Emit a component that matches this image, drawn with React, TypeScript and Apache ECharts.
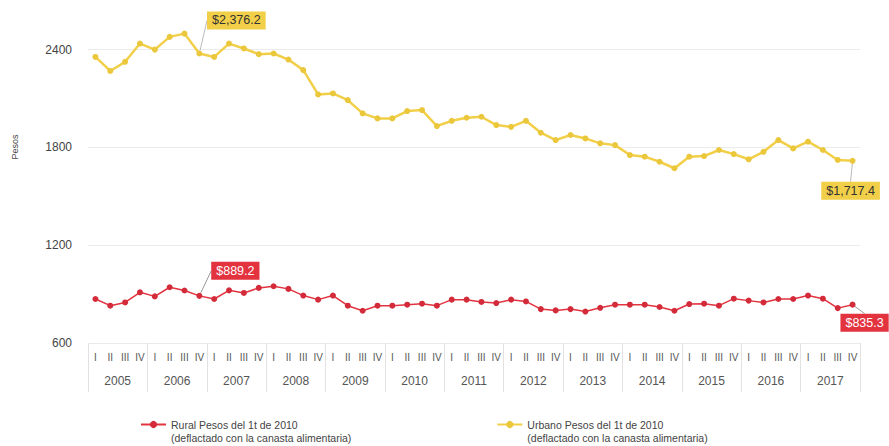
import React, { useEffect, useRef } from "react";
import * as echarts from "echarts";

const years = ["2005", "2006", "2007", "2008", "2009", "2010", "2011", "2012", "2013", "2014", "2015", "2016", "2017"];
const quarters = ["I", "II", "III", "IV"];
const yTicks = [600, 1200, 1800, 2400];

const urbano = [
  2355, 2269, 2325, 2437, 2400, 2478, 2498, 2376.2,
  2355, 2437, 2407, 2372, 2376, 2339, 2274, 2125,
  2131, 2090, 2009, 1978, 1978, 2023, 2029, 1931,
  1963, 1982, 1988, 1937, 1926, 1963, 1890, 1845,
  1876, 1855, 1825, 1814, 1753, 1743, 1712, 1672,
  1743, 1747, 1784, 1759, 1727, 1773, 1845, 1794,
  1835, 1784, 1723, 1717.4,
];

const rural = [
  870, 829, 849, 911, 886, 942, 922, 889.2,
  870, 923, 907, 938, 948, 932, 891, 866,
  891, 829, 798, 829, 829, 835, 841, 829,
  866, 866, 852, 845, 866, 855, 808, 800,
  808, 793, 816, 835, 835, 835, 821, 798,
  839, 841, 829, 872, 860, 849, 870, 870,
  891, 872, 814, 835.3,
];

const annotated = [7, 51];

const ruralName = "Rural Pesos del 1t de 2010\n(deflactado con la canasta alimentaria)";
const urbanoName = "Urbano Pesos del 1t de 2010\n(deflactado con la canasta alimentaria)";

const FONT = 'Arial, "Liberation Sans", sans-serif';
const YELLOW = "#F2CF48";
const RED = "#E2333F";

const money = (v: number) =>
  "$" + v.toLocaleString("en-US", { minimumFractionDigits: 1, maximumFractionDigits: 1 });

export default function App() {
  const ref = useRef<HTMLDivElement>(null);

  useEffect(() => {
    if (!ref.current) return;
    const chart = echarts.init(ref.current, undefined, { renderer: "svg" });

    const quarterCats = years.flatMap(() => quarters.map((q) => q));

    const mkData = (arr: number[], labelStyle: any) =>
      arr.map((v, i) =>
        annotated.includes(i)
          ? { value: v, label: { show: true, ...labelStyle } }
          : v
      );

    const labelBase = {
      position: "inside",
      fontFamily: FONT,
      fontSize: 12.5,
      padding: [3, 5, 2, 5],
      formatter: (p: any) => money(p.value),
    };

    const option: any = {
      animation: false,
      textStyle: { fontFamily: FONT },
      grid: { left: 88, right: 29, top: 17, bottom: 103, containLabel: false },
      xAxis: [
        {
          type: "category",
          data: quarterCats,
          gridIndex: 0,
          position: "bottom",
          offset: 0,
          boundaryGap: true,
          axisLine: { show: false },
          axisTick: { show: false },
          axisLabel: { interval: 0, fontSize: 10, color: "#555", margin: 9, fontFamily: FONT },
        },
        {
          type: "category",
          data: years,
          gridIndex: 0,
          position: "bottom",
          offset: 0,
          boundaryGap: true,
          axisLine: { show: false },
          axisTick: { show: true, interval: 0, length: 49, lineStyle: { color: "#e2e2e2", width: 1 } },
          axisLabel: { interval: 0, fontSize: 12, color: "#555", margin: 32, fontFamily: FONT },
        },
      ],
      yAxis: {
        type: "value",
        min: yTicks[0],
        max: 2600,
        interval: 600,
        axisLine: { show: false },
        axisTick: { show: false },
        axisLabel: {
          fontSize: 12,
          color: "#444",
          margin: 16,
          fontFamily: FONT,
          showMaxLabel: false,
          formatter: (v: number) => (yTicks.includes(v) ? String(v) : ""),
        },
        splitLine: { show: true, showMaxLine: false, lineStyle: { color: "#ebebeb", width: 1 } },
      },
      legend: {
        left: 135,
        top: 400,
        itemGap: 145,
        itemWidth: 25,
        itemHeight: 9,
        data: [ruralName, urbanoName],
        formatter: (name: string) => " \n" + name,
        textStyle: { fontSize: 10.5, color: "#444", lineHeight: 13, fontFamily: FONT },
      },
      graphic: [
        {
          type: "text",
          x: 15,
          y: 147,
          rotation: Math.PI / 2,
          style: {
            text: "Pesos",
            fontSize: 9,
            fill: "#444",
            fontFamily: FONT,
            align: "center",
            verticalAlign: "middle",
          },
        },
      ],
      series: [
        {
          name: ruralName,
          type: "line",
          xAxisIndex: 0,
          data: mkData(rural, {
            ...labelBase,
            color: "#fff",
            backgroundColor: RED,
          }),
          symbol: "circle",
          symbolSize: 6,
          showAllSymbol: true,
          lineStyle: { color: RED, width: 1.5 },
          itemStyle: { color: "#D42B3A" },
          labelLine: { show: true, lineStyle: { color: "#999", width: 1 } },
          labelLayout: (p: any) => {
            if (p.dataIndex === 7) return { dx: 36, dy: -25 };
            if (p.dataIndex === 51) return { dx: 12, dy: 18 };
            return {};
          },
          z: 3,
        },
        {
          name: urbanoName,
          type: "line",
          xAxisIndex: 0,
          data: mkData(urbano, {
            ...labelBase,
            color: "#333",
            backgroundColor: YELLOW,
          }),
          symbol: "circle",
          symbolSize: 6,
          showAllSymbol: true,
          lineStyle: { color: YELLOW, width: 2.5 },
          itemStyle: { color: "#EBC73C" },
          labelLine: { show: true, lineStyle: { color: "#bbb", width: 1 } },
          labelLayout: (p: any) => {
            if (p.dataIndex === 7) return { dx: 37, dy: -33 };
            if (p.dataIndex === 51) return { dx: -2, dy: 30 };
            return {};
          },
          z: 3,
        },
      ],
    };

    chart.setOption(option);
    return () => chart.dispose();
  }, []);

  return (
    <div
      ref={ref}
      style={{ position: "fixed", left: 0, top: 0, width: 889, height: 446, background: "#fff" }}
    />
  );
}
